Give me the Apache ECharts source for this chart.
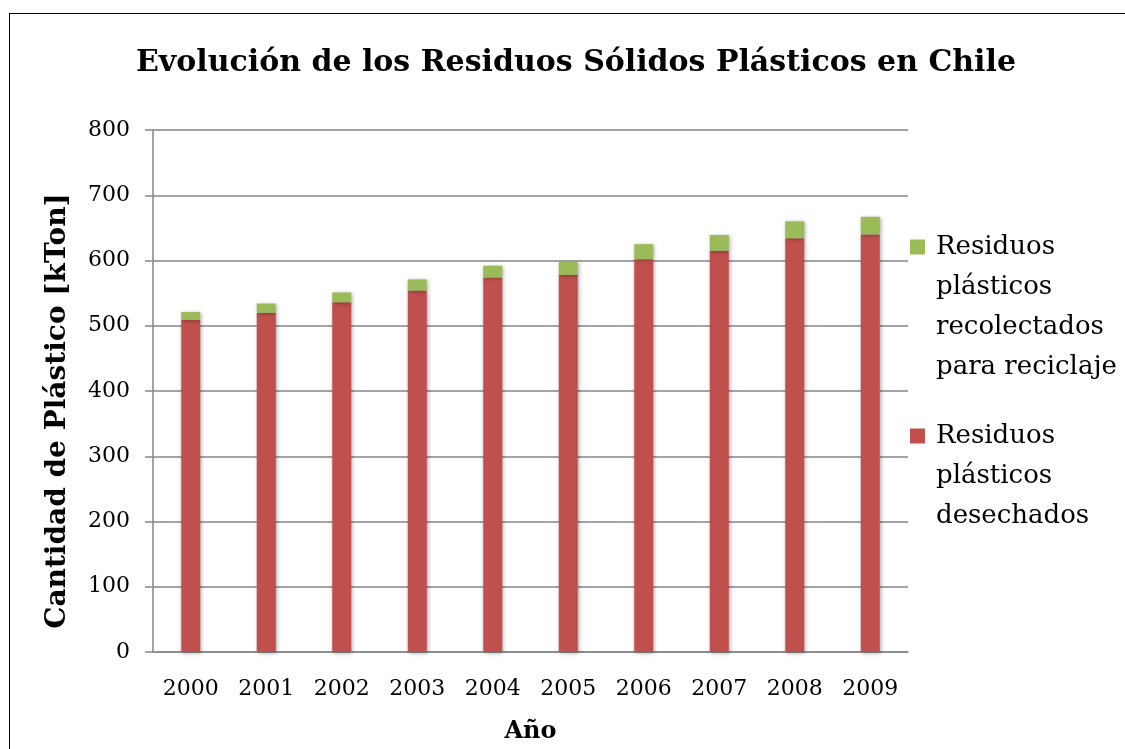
<!DOCTYPE html>
<html>
<head>
<meta charset="utf-8">
<script src="https://cdn.jsdelivr.net/npm/echarts@6/dist/echarts.min.js"></script>
<style>
html,body{margin:0;padding:0;background:#fff;overflow:hidden;}
#frame{position:absolute;left:9px;top:13px;width:1200px;height:800px;border:1.5px solid #000;box-sizing:border-box;}
#chart{position:absolute;left:0;top:0;width:1125px;height:749px;}
</style>
</head>
<body>
<div id="frame"></div>
<div id="chart"></div>
<script>
const categories = ['2000','2001','2002','2003','2004','2005','2006','2007','2008','2009'];
const desechados = [509, 520, 536, 554, 574, 578, 602, 615, 634, 640];
const recolectados = [12, 14, 15, 17, 18, 20, 23, 24, 26, 27];
const yTicks = [0, 100, 200, 300, 400, 500, 600, 700, 800];
const nameRec = 'Residuos plásticos recolectados para reciclaje';
const nameDes = 'Residuos plásticos desechados';
const labelRec = 'Residuos\nplásticos\nrecolectados\npara reciclaje';
const labelDes = 'Residuos\nplásticos\ndesechados';

const FONT = 'DejaVu Serif';
const chart = echarts.init(document.getElementById('chart'), null, {renderer: 'canvas'});
const legendText = {fontFamily: FONT, fontSize: 26, color: '#000', lineHeight: 40};
// square icon followed by a little empty space inside the icon box
const squareIcon = 'path://M0,0h15v15h-15z M21,0h0.001';
// pad label above with blank lines so the icon sits beside the first line
function topAligned(label) {
  const n = label.split('\n').length;
  return '\n'.repeat(n - 1) + label;
}
chart.setOption({
  backgroundColor: 'transparent',
  animation: false,
  title: {
    text: 'Evolución de los Residuos Sólidos Plásticos en Chile',
    left: 131, top: 43,
    textStyle: {fontFamily: FONT, fontWeight: 'bold', fontSize: 30, color: '#000'}
  },
  legend: [
    {
      data: [{name: nameRec, icon: squareIcon}], orient: 'vertical', left: 910, top: 107,
      itemWidth: 21, itemHeight: 15, itemGap: 0, padding: 0,
      formatter: () => topAligned(labelRec),
      textStyle: legendText,
      selectedMode: false
    },
    {
      data: [{name: nameDes, icon: squareIcon}], orient: 'vertical', left: 910, top: 336,
      itemWidth: 21, itemHeight: 15, itemGap: 0, padding: 0,
      formatter: () => topAligned(labelDes),
      textStyle: legendText,
      selectedMode: false
    }
  ],
  grid: {left: 153, width: 755, top: 130, height: 523, containLabel: false},
  xAxis: {
    type: 'category', data: categories,
    name: 'Año', nameLocation: 'middle', nameGap: 68,
    nameTextStyle: {fontFamily: FONT, fontWeight: 'bold', fontSize: 24, color: '#000'},
    axisLine: {lineStyle: {color: '#868686', width: 1.5}},
    axisTick: {show: false},
    axisLabel: {fontFamily: FONT, fontSize: 22, color: '#000', margin: 26}
  },
  yAxis: {
    type: 'value', min: yTicks[0], max: yTicks[yTicks.length - 1], interval: 100,
    name: 'Cantidad de Plástico [kTon]', nameLocation: 'middle', nameGap: 81,
    nameTextStyle: {fontFamily: FONT, fontWeight: 'bold', fontSize: 28, color: '#000', padding: [0, 40, 0, 0]},
    axisLine: {show: true, lineStyle: {color: '#868686', width: 1.5}},
    axisTick: {show: true, inside: false, length: 8, lineStyle: {color: '#868686', width: 1.5}},
    splitLine: {show: true, lineStyle: {color: '#868686', width: 1.5}},
    axisLabel: {fontFamily: FONT, fontSize: 22, color: '#000', margin: 23}
  },
  series: [
    {
      name: nameDes, type: 'bar', stack: 'total', data: desechados, barWidth: 19,
      itemStyle: {color: '#C0504D', shadowBlur: 4, shadowColor: 'rgba(0,0,0,0.35)', shadowOffsetX: 1, shadowOffsetY: 1}
    },
    {
      name: nameRec, type: 'bar', stack: 'total', data: recolectados, barWidth: 19,
      itemStyle: {color: '#9BBB59', shadowBlur: 4, shadowColor: 'rgba(0,0,0,0.35)', shadowOffsetX: 1, shadowOffsetY: 1}
    }
  ]
});
</script>
</body>
</html>
